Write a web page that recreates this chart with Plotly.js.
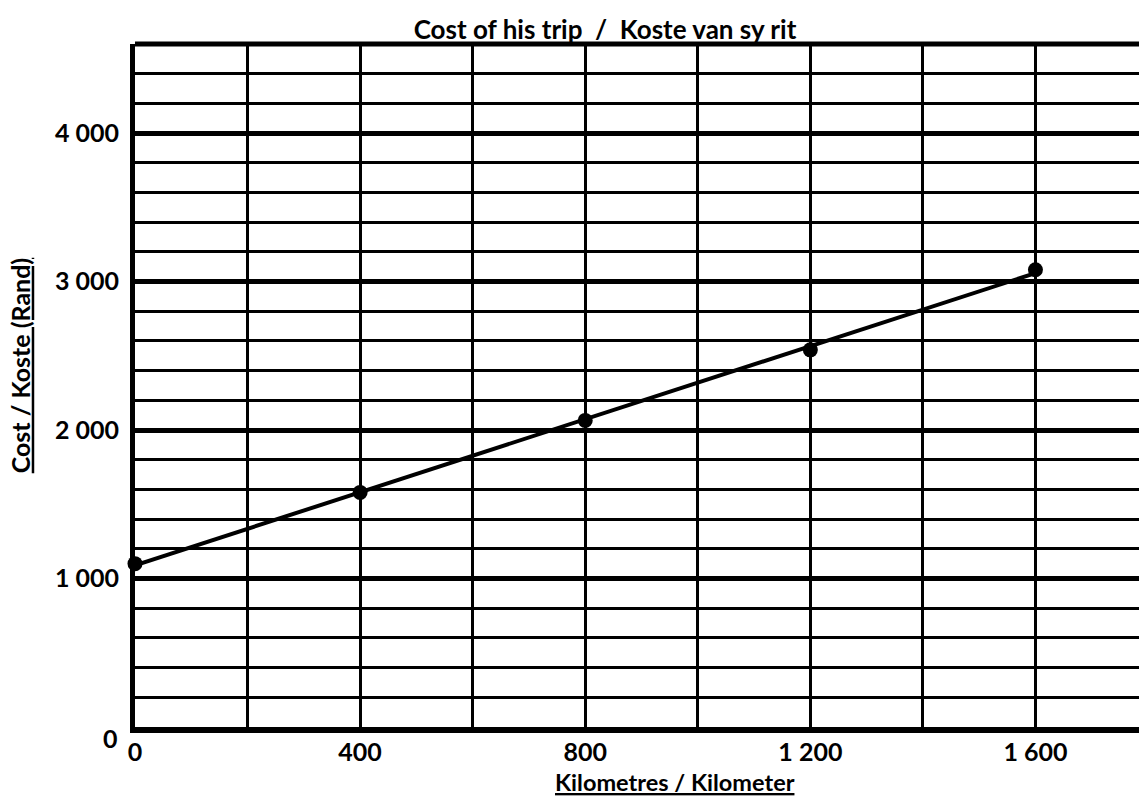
<!DOCTYPE html>
<html>
<head>
<meta charset="utf-8">
<script src="https://cdn.plot.ly/plotly-3.0.1.min.js"></script>
<style>
html,body{margin:0;padding:0;background:#fff;}
#chart{width:1139px;height:797px;}
</style>
</head>
<body>
<div id="chart"></div>
<script>
// ---- data ----
const kilometres = [0, 400, 800, 1200, 1600];
const costRand = [1100, 1580, 2065, 2540, 3080];
const xTickVals = [0, 400, 800, 1200, 1600];
const xTickText = ['0', '400', '800', '1 200', '1 600'];
const yTickVals = [1000, 2000, 3000, 4000];
const yTickText = ['1 000', '2 000', '3 000', '4 000'];
const chartTitle = 'Cost of his trip\u00a0 /\u00a0 Koste van sy rit';
const xTitle = 'Kilometres / Kilometer';
const yTitle = 'Cost / Koste (Rand)';

// least-squares trendline derived from the data
const n = kilometres.length;
const mx = kilometres.reduce((a, b) => a + b, 0) / n;
const my = costRand.reduce((a, b) => a + b, 0) / n;
let sxy = 0, sxx = 0;
for (let i = 0; i < n; i++) {
  sxy += (kilometres[i] - mx) * (costRand[i] - my);
  sxx += (kilometres[i] - mx) ** 2;
}
const slope = sxy / sxx;
const intercept = my - slope * mx;
const trendX = [kilometres[0], kilometres[n - 1]];
const trendY = trendX.map(x => intercept + slope * x);

const FONT = 'Lato, "Open Sans", sans-serif';

const traces = [
  {
    x: trendX, y: trendY, mode: 'lines', type: 'scatter',
    line: {color: '#000', width: 4}, hoverinfo: 'skip', cliponaxis: false
  },
  {
    x: kilometres, y: costRand, mode: 'markers', type: 'scatter',
    marker: {color: '#000', size: 15}, cliponaxis: false
  }
];

const layout = {
  width: 1139, height: 797,
  margin: {l: 135, r: 0, t: 43.5, b: 70, pad: 0},
  paper_bgcolor: '#fff', plot_bgcolor: '#fff',
  showlegend: false,
  font: {family: FONT, color: '#000'},
  title: {
    text: '<b>' + chartTitle + '</b>',
    font: {family: FONT, size: 26, color: '#000'},
    xref: 'container', x: 605 / 1139, xanchor: 'center',
    yref: 'container', y: 1 - 30 / 797, yanchor: 'middle'
  },
  xaxis: {
    range: [0, 1784], fixedrange: true,
    tickmode: 'array', tickvals: xTickVals, ticktext: xTickText,
    tickfont: {family: FONT, size: 25, color: '#000', weight: 'bold'},
    ticks: '', ticklabelstandoff: -2,
    showgrid: true, gridcolor: '#000', gridwidth: 3,
    minor: {dtick: 200, tick0: 0, showgrid: true, gridcolor: '#000', gridwidth: 3},
    zeroline: false,
    showline: true, linecolor: '#000', linewidth: 6
  },
  yaxis: {
    range: [0, 4600], fixedrange: true,
    tickmode: 'array', tickvals: yTickVals, ticktext: yTickText,
    tickfont: {family: FONT, size: 25, color: '#000', weight: 'bold'},
    ticks: 'outside', ticklen: 6, tickcolor: 'rgba(0,0,0,0)',
    showgrid: true, gridcolor: '#000', gridwidth: 5,
    minor: {dtick: 200, tick0: 0, showgrid: true, gridcolor: '#000', gridwidth: 3},
    zeroline: false,
    showline: true, linecolor: '#000', linewidth: 5
  },
  shapes: [
    {type: 'line', xref: 'paper', yref: 'paper', x0: 0, x1: 1, y0: 1, y1: 1,
     line: {color: '#000', width: 5}}
  ],
  annotations: [
    {text: '<b>0</b>', xref: 'paper', yref: 'paper',
     x: (120 - 135) / 1004, y: (727 - 738) / 683.5,
     xanchor: 'right', yanchor: 'middle', showarrow: false,
     font: {family: FONT, size: 25, color: '#000'}},
    {text: '<b><u>' + xTitle + '</u></b>', xref: 'paper', yref: 'paper',
     x: (675 - 135) / 1004, y: (727 - 782) / 683.5,
     xanchor: 'center', yanchor: 'middle', showarrow: false,
     font: {family: FONT, size: 23.5, color: '#000'}},
    {text: '<b><u>' + yTitle + '</u></b>', xref: 'paper', yref: 'paper',
     x: (20 - 135) / 1004, y: (727 - 365) / 683.5, textangle: -90,
     xanchor: 'center', yanchor: 'middle', showarrow: false,
     font: {family: FONT, size: 25, color: '#000'}}
  ]
};

Plotly.newPlot('chart', traces, layout, {displayModeBar: false, staticPlot: true});
</script>
</body>
</html>
